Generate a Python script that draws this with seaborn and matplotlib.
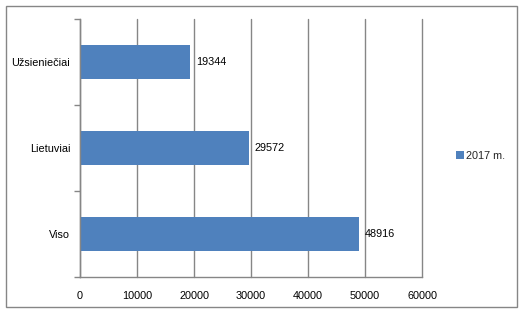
import matplotlib
matplotlib.use("Agg")
import matplotlib.pyplot as plt
import seaborn as sns
import pandas as pd
from matplotlib.patches import Rectangle

categories = ["Užsieniečiai", "Lietuviai", "Viso"]
values = [19344, 29572, 48916]
series_name = "2017 m."
xticks = [0, 10000, 20000, 30000, 40000, 50000, 60000]

sns.set_theme(style="white")
plt.rcParams['font.family'] = ['Liberation Sans', 'DejaVu Sans']

df = pd.DataFrame({"cat": categories, "val": values, "series": series_name})

W, H = 527, 316
fig = plt.figure(figsize=(W / 100, H / 100), dpi=100)
ax = fig.add_axes([80 / W, (H - 277) / H, (422 - 80) / W, (277 - 19) / H])

gray = "#868686"
blue = "#4F81BD"
fs = 7.8

sns.barplot(data=df, x="val", y="cat", hue="series", palette=[blue],
            orient="h", width=0.4, ax=ax, order=categories, saturation=1,
            linewidth=0, edgecolor="none")

ax.set_xlim(0, 60000)
ax.set_ylim(2.5, -0.5)
ax.set_xticks(xticks)
ax.set_xticklabels([str(t) for t in xticks], fontsize=fs, color="black")
ax.set_xlabel("")
ax.set_ylabel("")
ax.tick_params(axis="x", length=4, width=1, color=gray, direction="out", pad=6)
ax.set_yticks(range(len(categories)))
ax.set_yticklabels(categories, fontsize=fs, color="black")
ax.tick_params(axis="y", which="major", length=0, pad=7)
ax.set_yticks([-0.5, 0.5, 1.5, 2.5], minor=True)
ax.tick_params(axis="y", which="minor", length=4, width=1, color=gray, direction="out", left=True)
ax.grid(axis="x", color=gray, linewidth=1)
for gl in ax.get_xgridlines():
    gl.set_clip_on(False)
ax.set_axisbelow(True)
for s in ["top", "right"]:
    ax.spines[s].set_visible(False)
for s in ["left", "bottom"]:
    ax.spines[s].set_color(gray)
    ax.spines[s].set_linewidth(1)

for c in ax.containers:
    ax.bar_label(c, labels=[str(v) for v in values], padding=4, fontsize=fs, color="black")

leg = ax.legend(loc="center left", bbox_to_anchor=(456 / W, (H - 156) / H),
                bbox_transform=fig.transFigure, frameon=False, fontsize=fs,
                handlelength=0.7, handleheight=0.7, handletextpad=0.2, borderaxespad=0, borderpad=0)

fig.patches.append(Rectangle((5.5 / W, (H - 307) / H), (517 - 5.5) / W, (307 - 6) / H,
                             transform=fig.transFigure, fill=False, edgecolor=gray, linewidth=1))

fig.savefig("out.png", dpi=100)
